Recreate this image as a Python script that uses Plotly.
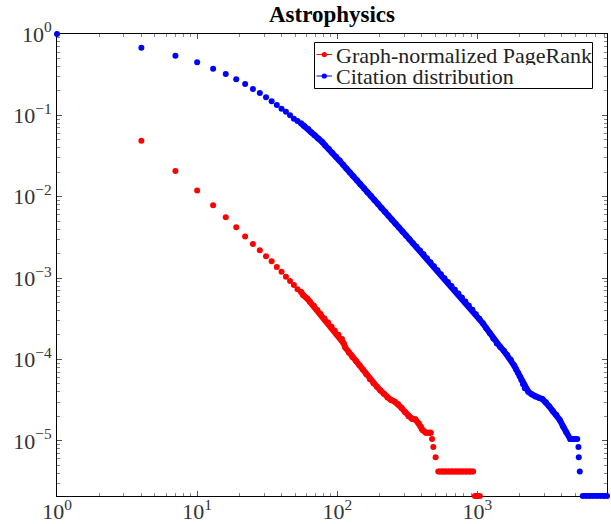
import math
import plotly.graph_objects as go

# ---- data ----
pagerank_x = [4, 7, 10, 13, 16, 19, 22, 25, 28, 31, 34, 37, 40, 43, 46, 49, 52,
              55, 57, 61, 64, 68, 72, 76, 81, 86, 91, 96, 102, 108, 111, 114, 121, 128,
              136, 144, 152, 161, 171, 181, 192, 203, 215, 228, 241, 256, 271, 287,
              304, 322, 341, 361, 382, 393, 405, 429, 454, 465,
              474, 484, 503,
              525, 558, 590, 626, 662, 702, 743, 787, 834, 883, 932,
              958, 998, 1040]
pagerank_y = [0.0489, 0.0207, 0.0119, 0.00787, 0.00560, 0.00422, 0.00324, 0.00263,
              0.00220, 0.00186, 0.00161, 0.00137, 0.00120, 0.00104, 0.000924, 0.000825,
              0.000731,
              6.81e-4, 6.18e-4, 5.60e-4, 5.07e-4, 4.58e-4, 4.07e-4, 3.61e-4, 3.19e-4,
              2.85e-4, 2.53e-4, 2.25e-4, 2.01e-4, 1.78e-4, 1.58e-4, 1.40e-4, 1.21e-4,
              1.076e-4, 9.56e-5, 8.49e-5, 7.54e-5, 6.58e-5, 5.73e-5, 5.09e-5, 4.61e-5,
              4.17e-5, 3.78e-5, 3.42e-5, 3.19e-5, 3.05e-5, 2.84e-5, 2.54e-5, 2.26e-5,
              2.01e-5, 1.87e-5, 1.83e-5, 1.64e-5, 1.50e-5, 1.36e-5, 1.26e-5, 1.26e-5,
              1.26e-5,
              1.05e-5, 8.4e-6, 6.3e-6,
              4.2e-6, 4.2e-6, 4.2e-6, 4.2e-6, 4.2e-6, 4.2e-6, 4.2e-6, 4.2e-6, 4.2e-6,
              4.2e-6, 4.2e-6,
              2.1e-6, 2.1e-6, 2.1e-6]

citation_x = [1, 4, 7, 10, 13, 16, 19, 22, 25, 28, 31, 34, 37, 40, 43, 46, 49, 52,
              55, 58, 62, 65, 69, 73, 78, 82, 87, 92, 98, 104, 110, 116, 123, 130, 138,
              146, 155, 164, 174, 184, 195, 206, 219, 232, 245, 260, 275, 292, 309, 327,
              346, 367, 389, 412, 436, 462, 489, 518, 548, 581, 615, 652, 690, 731, 774,
              820, 868, 920, 974, 1032, 1093, 1157, 1226, 1298, 1375, 1456, 1542, 1633,
              1730, 1832, 1885, 1941, 2000, 2056, 2115, 2178, 2306, 2442, 2587, 2739,
              2901, 3073, 3254, 3447, 3650, 3866, 4095, 4301,
              4594, 4866, 5152,
              5255, 5281, 5370,
              5640, 5974, 6327, 6699, 7096, 7516, 7960, 8400]
citation_y = [1.0, 0.679, 0.541, 0.449, 0.375, 0.323, 0.278, 0.243, 0.211, 0.188, 0.167,
              0.149, 0.134, 0.121, 0.111, 0.100, 0.0911, 0.0855,
              0.0799, 0.0741, 0.0679, 0.0622, 0.0571, 0.0520, 0.0471, 0.0427, 0.0387,
              0.0347, 0.0310, 0.0278, 0.0248, 0.0222, 0.0199, 0.0178, 0.0159, 0.01424,
              0.01275, 0.01139, 0.01020, 0.00911, 0.00813, 0.00729, 0.00652, 0.00584,
              0.00523, 0.00467, 0.00418, 0.00375, 0.00335, 0.00300, 0.00269, 0.00243,
              0.00219, 0.00197, 0.00176, 0.00157, 0.001396, 0.001247, 0.001113,
              0.000997, 0.000896, 0.000802, 0.000720, 0.000645, 0.000576, 0.000516,
              0.000461, 0.000408, 0.000359, 0.000316, 0.000278, 0.000242, 0.000210,
              0.0001816, 0.0001573, 0.0001420, 0.0001279, 0.0001133, 9.89e-5, 8.37e-5,
              7.60e-5, 6.90e-5, 6.23e-5, 5.58e-5, 4.97e-5, 4.44e-5, 4.02e-5, 3.73e-5,
              3.51e-5, 3.38e-5, 3.27e-5, 2.98e-5, 2.65e-5, 2.32e-5, 2.09e-5, 1.81e-5,
              1.486e-5, 1.279e-5,
              1.05e-5, 1.05e-5, 1.05e-5,
              8.4e-6, 6.3e-6, 4.2e-6,
              2.1e-6, 2.1e-6, 2.1e-6, 2.1e-6, 2.1e-6, 2.1e-6, 2.1e-6, 2.1e-6]

# index ranges where the original dense markers merge into a continuous band
pagerank_runs = [(17, 58), (61, 72), (72, 75)]
citation_runs = [(18, 101), (104, 112)]

series_names = ["Graph-normalized PageRank", "Citation distribution"]
series_colors = ["#ff0000", "#0000ff"]
title_text = "Astrophysics"

x_tick_vals = [1, 10, 100, 1000]
x_tick_text = ["10<sup>0</sup>", "10<sup>1</sup>", "10<sup>2</sup>", "10<sup>3</sup>"]
y_tick_vals = [1, 1e-1, 1e-2, 1e-3, 1e-4, 1e-5]
y_tick_text = ["10<sup>0</sup>", "10<sup>\u22121</sup>", "10<sup>\u22122</sup>",
               "10<sup>\u22123</sup>", "10<sup>\u22124</sup>", "10<sup>\u22125</sup>"]

x_range = [1, 8400]
y_range = [2.1e-6, 1.0]

# ---- figure ----
SERIF = "Liberation Serif, DejaVu Serif, serif"
W, H = 611, 524
ML, MR, MT, MB = 57, 4, 34, 28
PW, PH = W - ML - MR, H - MT - MB
MSIZE = 6

fig = go.Figure()

series = [(pagerank_x, pagerank_y, pagerank_runs, series_colors[0], series_names[0]),
          (citation_x, citation_y, citation_runs, series_colors[1], series_names[1])]

for xs, ys, runs, col, name in series:
    for a, b in runs:
        fig.add_trace(go.Scatter(
            x=xs[a:b], y=ys[a:b], mode="lines", showlegend=False, cliponaxis=False,
            line=dict(color=col, width=MSIZE), hoverinfo="skip"))
    fig.add_trace(go.Scatter(
        x=xs, y=ys, mode="markers", showlegend=False, cliponaxis=False,
        marker=dict(color=col, size=MSIZE, line=dict(width=0)), name=name))

axis_common = dict(
    type="log", showgrid=False, zeroline=False, showline=True, linecolor="black",
    linewidth=1, mirror="allticks", ticks="inside", ticklen=5, tickwidth=1,
    tickcolor="#555", layer="below traces",
    tickfont=dict(family=SERIF, size=22, color="#333"),
    minor=dict(ticks="inside", ticklen=3, tickwidth=1, tickcolor="#888",
               dtick="D1", showgrid=False),
)

# ---- hand-drawn legend box (matplotlib style, compact symbol) ----
def px2paper(px, py):
    return (px - ML) / PW, (H - MB - py) / PH

shapes = []
annotations = []
bx0, by0 = px2paper(314.5, 88.5)
bx1, by1 = px2paper(592.5, 42.5)
shapes.append(dict(type="rect", xref="paper", yref="paper", x0=bx0, y0=by0, x1=bx1,
                   y1=by1, line=dict(color="black", width=1), fillcolor="white",
                   layer="above"))
row_y = [54.5, 76.0]
for ry, name, col in zip(row_y, series_names, series_colors):
    lx0, ly = px2paper(316.5, ry)
    lx1, _ = px2paper(332.0, ry)
    shapes.append(dict(type="line", xref="paper", yref="paper", x0=lx0, x1=lx1,
                       y0=ly, y1=ly, line=dict(color=col, width=1), layer="above"))
    cx, cy = px2paper(324.3, ry)
    r = 2.6
    shapes.append(dict(type="circle", xref="paper", yref="paper",
                       x0=cx - r / PW, x1=cx + r / PW, y0=cy - r / PH, y1=cy + r / PH,
                       line=dict(color=col, width=0), fillcolor=col, layer="above"))
    tx, ty = px2paper(334.5, ry)
    annotations.append(dict(text=name, xref="paper", yref="paper", x=tx, y=ty,
                            xanchor="left", yanchor="middle", showarrow=False,
                            height=20, borderpad=0,
                            font=dict(family=SERIF, size=22, color="#222")))

fig.update_layout(
    width=W, height=H,
    margin=dict(l=ML, r=MR, t=MT, b=MB, autoexpand=False),
    paper_bgcolor="white", plot_bgcolor="white",
    title=dict(text="<b>" + title_text + "</b>", x=0.5, xref="paper",
               xanchor="center", y=1 - 14 / H, yref="container", yanchor="middle",
               font=dict(family=SERIF, size=23, color="black")),
    xaxis=dict(axis_common, range=[math.log10(x_range[0]), math.log10(x_range[1])],
               tickvals=x_tick_vals, ticktext=x_tick_text, ticklabelstandoff=-4),
    yaxis=dict(axis_common, range=[math.log10(y_range[0]), math.log10(y_range[1])],
               tickvals=y_tick_vals, ticktext=y_tick_text),
    shapes=shapes, annotations=annotations,
    showlegend=False,
)

fig.write_html("out.html",
               config={"displayModeBar": False},
               post_script="document.body.style.margin='0';"
                           "document.body.style.overflow='hidden';")
